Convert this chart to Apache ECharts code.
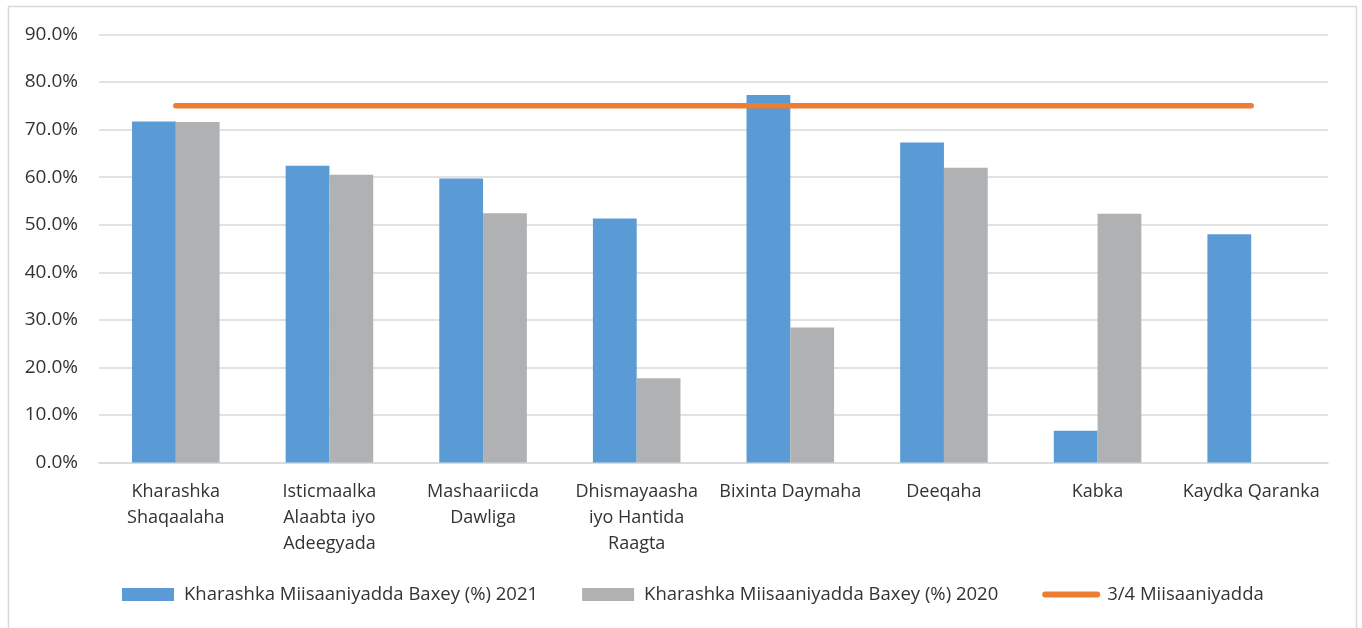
<!DOCTYPE html>
<html>
<head>
<meta charset="utf-8">
<script src="https://cdn.jsdelivr.net/npm/echarts@6/dist/echarts.min.js"></script>
<style>
  html, body { margin: 0; padding: 0; background: #fff; }
  #chart { width: 1362px; height: 628px; }
</style>
</head>
<body>
<div id="chart"></div>
<script>
// categories (line breaks as in the original axis labels)
const categories = [
  'Kharashka\nShaqaalaha',
  'Isticmaalka\nAlaabta iyo\nAdeegyada',
  'Mashaariicda\nDawliga',
  'Dhismayaasha\niyo Hantida\nRaagta',
  'Bixinta Daymaha',
  'Deeqaha',
  'Kabka',
  'Kaydka Qaranka'
]

const spend2021 = [71.7, 62.4, 59.7, 51.3, 77.3, 67.3, 6.7, 48.0]
const spend2020 = [71.6, 60.5, 52.4, 17.7, 28.4, 62.0, 52.3, null]
const target = [75, 75, 75, 75, 75, 75, 75, 75]

const seriesNames = [
  'Kharashka Miisaaniyadda Baxey (%) 2021',
  'Kharashka Miisaaniyadda Baxey (%) 2020',
  '3/4 Miisaaniyadda'
]

const colors = {
  blue: '#5B9BD5',
  gray: '#B0B1B3',
  orange: '#ED7D31',
  grid: '#D9D9D9',
  text: '#333333'
}

const font = '"Open Sans", "Noto Sans", sans-serif'

const chart = echarts.init(document.getElementById('chart'))

chart.setOption({
  animation: false,
  textStyle: { fontFamily: font },
  graphic: [{
    type: 'rect',
    shape: { x: 8.5, y: 6.5, width: 1348, height: 640 },
    style: { fill: 'none', stroke: colors.grid, lineWidth: 1.5 },
    silent: true
  }],
  grid: {
    left: 99,
    right: 34,
    top: 34.5,
    bottom: 165.5,
    containLabel: false
  },
  legend: {
    left: 117,
    top: 580,
    itemWidth: 52,
    itemHeight: 13,
    itemGap: 44,
    textStyle: {
      fontSize: 18.5,
      color: colors.text,
      fontFamily: font,
      padding: [0, 0, 0, 5]
    },
    data: [
      { name: seriesNames[0], icon: 'rect' },
      { name: seriesNames[1], icon: 'rect' },
      {
        name: seriesNames[2],
        itemStyle: { opacity: 0 },
        lineStyle: { color: colors.orange, width: 6, cap: 'round' }
      }
    ]
  },
  xAxis: {
    type: 'category',
    data: categories,
    axisLine: { lineStyle: { color: colors.grid, width: 1.5 } },
    axisTick: { show: false },
    axisLabel: {
      interval: 0,
      margin: 16,
      fontSize: 18,
      lineHeight: 26,
      color: colors.text,
      fontFamily: font
    }
  },
  yAxis: {
    type: 'value',
    min: 0,
    max: 90,
    interval: 10,
    axisLine: { show: false },
    axisTick: { show: false },
    splitLine: { lineStyle: { color: colors.grid, width: 1.5 } },
    axisLabel: {
      margin: 21,
      fontSize: 19,
      color: colors.text,
      fontFamily: font,
      formatter: v => v.toFixed(1) + '%'
    }
  },
  series: [
    {
      name: seriesNames[0],
      type: 'bar',
      data: spend2021,
      barGap: '0%',
      barCategoryGap: '43%',
      itemStyle: { color: colors.blue }
    },
    {
      name: seriesNames[1],
      type: 'bar',
      data: spend2020,
      barGap: '0%',
      barCategoryGap: '43%',
      itemStyle: { color: colors.gray }
    },
    {
      name: seriesNames[2],
      type: 'line',
      data: target,
      symbol: 'none',
      lineStyle: { color: colors.orange, width: 5.5, cap: 'round' },
      itemStyle: { color: colors.orange },
      z: 5
    }
  ]
})
</script>
</body>
</html>
